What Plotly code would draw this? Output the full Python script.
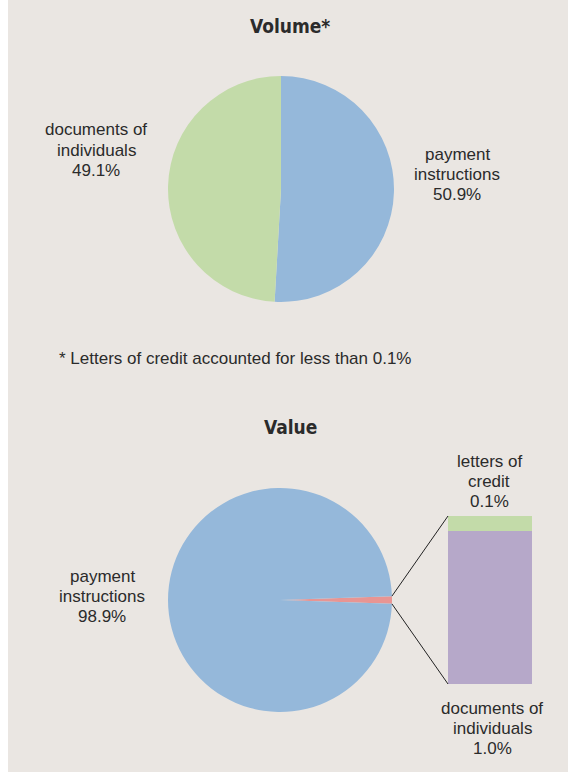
import math
import plotly.graph_objects as go

# ---------------- data ----------------
volume_labels = ["payment instructions", "documents of individuals"]
volume_values = [50.9, 49.1]

value_labels = ["payment instructions", "documents of individuals", "letters of credit"]
value_values = [98.9, 1.0, 0.1]

footnote = "* Letters of credit accounted for less than 0.1%"

# ---------------- styling ----------------
W, H = 568, 772
BG = "#EAE6E2"
BLUE = "#95B8DA"
GREEN = "#C3DBA9"
PINK = "#E89593"
PURPLE = "#B6A8C9"
TXT = "#2B2B2B"
FONT = "Liberation Sans, Arial, sans-serif"
TFONT = "Liberation Sans Narrow, DejaVu Sans Condensed, Arial Narrow, Liberation Sans, sans-serif"
LINE_H = 20


def px_x(x):
    return x / W


def px_y(y):
    return 1 - y / H


# pie geometry (pixels, y down)
p1c, p1r = (281, 189), 113
p2c, p2r = (280, 600), 112
bar_x0, bar_x1 = 448, 532
bar_top, bar_bot = 516, 684


def dom(c, r):
    return dict(x=[px_x(c[0] - r), px_x(c[0] + r)], y=[px_y(c[1] + r), px_y(c[1] - r)])


fig = go.Figure()

fig.add_trace(go.Pie(
    labels=volume_labels, values=volume_values, sort=False, direction="clockwise",
    rotation=0, marker=dict(colors=[BLUE, GREEN], line=dict(width=0)),
    textinfo="none", hoverinfo="skip", showlegend=False, domain=dom(p1c, p1r),
))

other_share = (value_values[1] + value_values[2]) / sum(value_values)
rotation = 90 - other_share * 360 / 2
fig.add_trace(go.Pie(
    labels=["other", value_labels[0]],
    values=[value_values[1] + value_values[2], value_values[0]],
    sort=False, direction="clockwise", rotation=rotation,
    marker=dict(colors=[PINK, BLUE], line=dict(width=0)),
    textinfo="none", hoverinfo="skip", showlegend=False, domain=dom(p2c, p2r),
))

# stacked bar of the "other" slice
fig.add_trace(go.Bar(x=[0], y=[value_values[1]], marker=dict(color=PURPLE, line=dict(width=0)),
                     width=1, hoverinfo="skip", showlegend=False))
fig.add_trace(go.Bar(x=[0], y=[value_values[2]], marker=dict(color=GREEN, line=dict(width=0)),
                     width=1, hoverinfo="skip", showlegend=False))

# connector lines: from slice edges to bar corners
a0 = math.radians(rotation)
a1 = math.radians(rotation + other_share * 360)
e0 = (p2c[0] + p2r * math.sin(a0), p2c[1] - p2r * math.cos(a0))
e1 = (p2c[0] + p2r * math.sin(a1), p2c[1] - p2r * math.cos(a1))

shapes = [
    dict(type="rect", xref="paper", yref="paper", x0=0, x1=px_x(8), y0=0, y1=1,
         fillcolor="white", line=dict(width=0), layer="below"),
    dict(type="line", xref="paper", yref="paper", x0=px_x(e0[0]), y0=px_y(e0[1]),
         x1=px_x(bar_x0), y1=px_y(bar_top), line=dict(color="#222", width=1)),
    dict(type="line", xref="paper", yref="paper", x0=px_x(e1[0]), y0=px_y(e1[1]),
         x1=px_x(bar_x0), y1=px_y(bar_bot), line=dict(color="#222", width=1)),
]


def ann(text, x, y, size=17, xanchor="center", font=FONT):
    return dict(text=text, x=px_x(x), y=px_y(y), xref="paper", yref="paper",
                xanchor=xanchor, yanchor="middle", showarrow=False, align="center",
                font=dict(size=size, color=TXT, family=font))


def block(lines, x, y_mid):
    n = len(lines)
    return [ann(t, x, y_mid + (i - (n - 1) / 2) * LINE_H) for i, t in enumerate(lines)]


pct = lambda v: f"{v:.1f}%"
annotations = [
    ann("<b>Volume*</b>", 290, 26, size=19, font=TFONT),
    ann("<b>Value</b>", 290, 427, size=19, font=TFONT),
    ann(footnote, 57, 358, xanchor="left"),
]
annotations += block(["documents of", "individuals", pct(volume_values[1])], 96, 150)
annotations += block(["payment", "instructions", pct(volume_values[0])], 457, 174)
annotations += block(["payment", "instructions", pct(value_values[0])], 102, 596)
annotations += block(["letters of", "credit", pct(value_values[2])], 489, 481)
annotations += block(["documents of", "individuals", pct(value_values[1])], 492, 728)

fig.update_layout(
    width=W, height=H, margin=dict(l=0, r=0, t=0, b=0),
    paper_bgcolor=BG, plot_bgcolor="rgba(0,0,0,0)",
    barmode="stack", bargap=0,
    xaxis=dict(domain=[px_x(bar_x0), px_x(bar_x1)], range=[-0.5, 0.5], visible=False, fixedrange=True),
    yaxis=dict(domain=[px_y(bar_bot), px_y(bar_top)], range=[0, value_values[1] + value_values[2]],
               visible=False, fixedrange=True),
    shapes=shapes, annotations=annotations, font=dict(family=FONT),
)

fig.write_html("out.html", config={"displayModeBar": False},
               post_script="document.body.style.margin='0';document.body.style.overflow='hidden';")
